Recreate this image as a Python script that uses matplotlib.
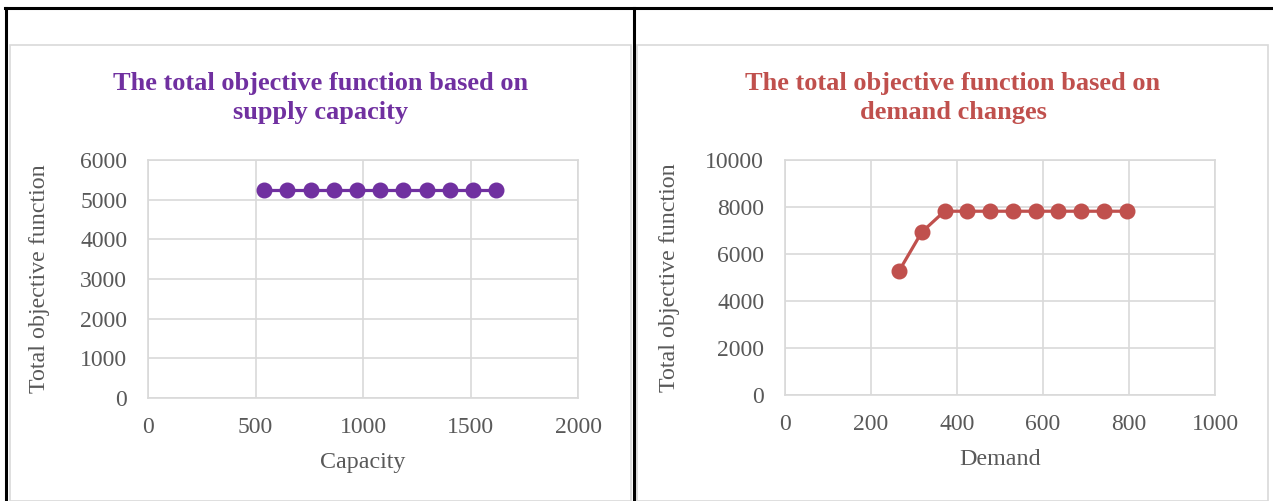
import numpy as np
import matplotlib
matplotlib.use("Agg")
import matplotlib.pyplot as plt
from matplotlib.lines import Line2D
from matplotlib.patches import Rectangle

# capacity chart
capacity = [540, 648, 756, 864, 972, 1080, 1188, 1296, 1404, 1512, 1620]
obj_capacity = [5240] * 11

# demand chart
demand = [265, 318, 371, 424, 477, 530, 583, 636, 689, 742, 795]
obj_demand = [5270, 6930, 7820, 7820, 7820, 7820, 7820, 7820, 7820, 7820, 7820]

purple = "#7030A0"
red = "#C0504D"
grid_c = "#D9D9D9"
text_c = "#595959"

plt.rcParams['font.family'] = ['Liberation Serif', 'DejaVu Serif']

fig = plt.figure(figsize=(12.73, 5.01), dpi=100)
W, H = 1273, 501

def fx(px):
    return px / W

def fy(py):
    return 1 - py / H

# table borders
for (x0, y0, x1, y1) in [(5, 8, 1273, 8), (6, 8, 6, 501), (634, 8, 634, 501)]:
    fig.add_artist(Line2D([fx(x0), fx(x1)], [fy(y0), fy(y1)], color="black", lw=2.2))

# chart frames
for (x0, x1) in [(10, 631), (637, 1268)]:
    fig.add_artist(Rectangle((fx(x0), 0), fx(x1) - fx(x0), fy(45), transform=fig.transFigure,
                             fill=False, edgecolor=grid_c, lw=1.2))


def make_chart(rect, x, y, color, xmax, xstep, ymax, ystep, title, xlabel, title_cx, ylabel_x):
    ax = fig.add_axes(rect)
    ax.plot(x, y, color=color, lw=2.3, marker="o", ms=10.5, zorder=3)
    ax.set_xlim(0, xmax)
    ax.set_ylim(0, ymax)
    ax.set_xticks(np.arange(0, xmax + 1, xstep))
    ax.set_yticks(np.arange(0, ymax + 1, ystep))
    ax.grid(True, color=grid_c, lw=1.2)
    ax.set_axisbelow(True)
    for s in ax.spines.values():
        s.set_color(grid_c)
        s.set_linewidth(1.2)
    ax.tick_params(length=0, labelsize=17, colors=text_c)
    ax.tick_params(axis="x", pad=14)
    ax.tick_params(axis="y", pad=15)
    ax.set_xlabel(xlabel, fontsize=17.3, color=text_c, labelpad=10)
    fig.text(fx(ylabel_x), rect[1] + rect[3] / 2, "Total objective function", rotation=90,
             ha="center", va="center", fontsize=17.3, color=text_c)
    fig.text(fx(title_cx), fy(98), title, ha="center", va="center", fontsize=19,
             fontweight="bold", color=color, linespacing=1.38)
    return ax


make_chart([fx(148), fy(398), fx(578) - fx(148), fy(160) - fy(398)], capacity, obj_capacity, purple,
           2000, 500, 6000, 1000, "The total objective function based on\nsupply capacity", "Capacity", 321, 40)
make_chart([fx(785), fy(395), fx(1215) - fx(785), fy(160) - fy(395)], demand, obj_demand, red,
           1000, 200, 10000, 2000, "The total objective function based on\ndemand changes", "Demand", 953, 670)

fig.savefig("out.png", dpi=100)
